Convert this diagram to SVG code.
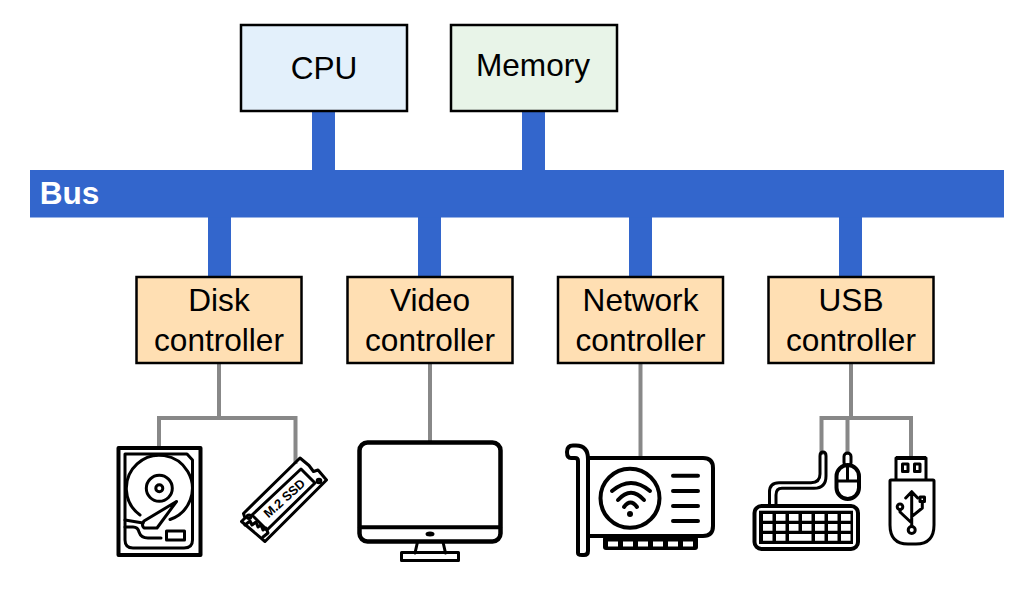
<svg xmlns="http://www.w3.org/2000/svg" width="1028" height="598" viewBox="0 0 1028 598">
<style>
text{font-family:"Liberation Sans",Arial,sans-serif;font-size:31.600px;fill:#000;text-anchor:middle}
.box{stroke:#000;stroke-width:2.500}
.ctl{fill:#ffdfb3}
.bus{fill:#3366cc}
.wire{fill:none;stroke:#888;stroke-width:4}
.ic{fill:none;stroke:#000;stroke-width:3;stroke-linejoin:round;stroke-linecap:round}
.ic4{fill:none;stroke:#000;stroke-width:4;stroke-linejoin:round;stroke-linecap:round}
.blk{fill:#000;stroke:none}
.wh{fill:#fff;stroke:none}
</style>
<rect width="1028" height="598" fill="#fff"/>
<g id="connectors">
<rect class="bus" x="312" y="110" width="23" height="60"/>
<rect class="bus" x="522" y="110" width="23" height="60"/>
<rect class="bus" x="208" y="217" width="23" height="60"/>
<rect class="bus" x="418" y="217" width="23" height="60"/>
<rect class="bus" x="629" y="217" width="23" height="60"/>
<rect class="bus" x="839" y="217" width="23" height="60"/>
<path class="wire" d="M219 363V418M159 446V418H295.500V464"/>
<path class="wire" d="M430 363V442"/>
<path class="wire" d="M640.500 363V458"/>
<path class="wire" d="M851 363V418M821.500 455V418H911V458M847.500 455V418"/>
</g>
<g id="bus"><rect class="bus" x="30" y="170" width="974" height="47.500"/><text x="69.500" y="204" style="fill:#fff;font-weight:700">Bus</text></g>
<g id="cpu"><rect class="box" x="241" y="25" width="166" height="86" fill="#e3f0fb"/><text x="324" y="79">CPU</text></g>
<g id="memory"><rect class="box" x="451" y="25" width="166" height="86" fill="#e8f4e8"/><text x="533" y="76">Memory</text></g>
<g id="disk-controller"><rect class="box ctl" x="136.500" y="277" width="165" height="86"/><text x="219" y="311">Disk</text><text x="219" y="350.500">controller</text></g>
<g id="video-controller"><rect class="box ctl" x="347.500" y="277" width="165" height="86"/><text x="430" y="311">Video</text><text x="430" y="350.500">controller</text></g>
<g id="network-controller"><rect class="box ctl" x="558" y="277" width="165" height="86"/><text x="640.500" y="311">Network</text><text x="640.500" y="350.500">controller</text></g>
<g id="usb-controller"><rect class="box ctl" x="768.500" y="277" width="165" height="86"/><text x="851" y="311">USB</text><text x="851" y="350.500">controller</text></g>
<g id="hdd">
<rect class="ic4" x="118.500" y="448" width="82" height="107"/>
<path class="ic" d="M125 454H187L192.500 460V540Q192.500 548 184 548H133Q125 548 125 540Z"/>
<path class="ic" d="M170 519.500A33 33 0 1 0 140 515"/>
<circle class="ic" cx="159.300" cy="488.300" r="13"/>
<circle class="ic" cx="159.300" cy="488.300" r="3.500"/>
<path class="ic" d="M176.500 501.500L144 521Q141 525 144 528L157 528Z"/>
<path class="ic" d="M125 520L143 523M125 527H133Q138 527 139 532Q141 538 148 538H161"/>
<rect class="ic" x="166.500" y="531" width="18" height="9"/>
</g>
<g id="ssd">
<path class="ic" d="M300 458L309 465.500L313.500 471.500L318 470L326.500 480L265 541.500L241.500 521.500L245 518L243.500 513.500Z" stroke-width="2.400"/>
<path class="ic" d="M301 469L315 483L267 530L252 515Z" stroke-width="2.400"/>
<circle class="ic" cx="319" cy="481" r="1.800" stroke-width="2"/>
<circle class="ic" cx="249" cy="516.700" r="1.800" stroke-width="2"/>
<path class="ic" d="M245 525L250 521L252 525L256 522L258 527L261 525L263 530L266 528L268 533L263 537" stroke-width="2"/>
<text transform="translate(284.300 498.300) rotate(-42)" style="font-size:12.700px;font-weight:700" y="4.500">M.2 SSD</text>
</g>
<g id="monitor">
<rect class="ic4" x="359.500" y="442.500" width="141" height="99" rx="8" style="stroke-width:4.500"/>
<path class="ic4" d="M360 527.300H500"/>
<ellipse class="blk" cx="430" cy="534" rx="4.500" ry="2.500"/>
<path class="ic" d="M417.500 542L415 553M443 542L445.500 553"/>
<rect class="ic" x="401.500" y="552.500" width="57" height="8"/>
</g>
<g id="netcard">
<path class="ic4" d="M588 458H703Q713 458 713 468V526Q713 536 703 536H590"/>
<path class="ic4" d="M578 553V461Q578 458 575 458H571Q567 458 567 452Q567 445.500 573 445.500H576Q588 445.500 588 459V551Q588 555 584 555H582Q578 555 578 553Z"/>
<circle class="ic4" cx="630" cy="498.300" r="29.500"/>
<path class="ic4" d="M612 491Q631 475 650 491M618 500Q631 485.500 644 500M624 507Q630.500 498 637 507"/>
<circle class="blk" cx="630" cy="514" r="3"/>
<path class="ic4" d="M673 475.700H698M673 491H698M673 506H698M673 521H698"/>
<rect class="blk" x="603" y="536" width="95" height="14" rx="3"/>
<path class="wh" d="M608 541.500h10v5h-10zM623 541.500h10v5h-10zM638 541.500h10v5h-10zM653 541.500h10v5h-10zM668 541.500h10v5h-10zM683 541.500h10v5h-10z"/>
</g>
<g id="keyboard">
<rect class="ic4" x="754.500" y="506" width="103.500" height="43" rx="7"/>
<rect class="blk" x="759" y="510.700" width="94" height="33.300"/>
<path class="wh" d="M763 514h9.500v6.700H763zM776 514h9.500v6.700H776zM789 514h9.500v6.700H789zM802 514h9.500v6.700H802zM815 514h9.500v6.700H815zM828 514h9.500v6.700H828zM841 514h9.500v6.700H841zM763 524h9.500v6.700H763zM776 524h9.500v6.700H776zM789 524h9.500v6.700H789zM802 524h9.500v6.700H802zM815 524h9.500v6.700H815zM828 524h9.500v6.700H828zM841 524h9.500v6.700H841zM763 534h9.500v6.700H763zM776 534h9.500v6.700H776zM789 534h22.500v6.700H789zM815 534h9.500v6.700H815zM828 534h9.500v6.700H828zM841 534h9.500v6.700H841z"/>
<path class="ic" d="M769.500 504V492Q769.500 482.700 779 482.700H811Q820 482.700 820 474V456Q820 452 823 452Q826 452 826 456V476Q826 488.300 814 488.300H782Q776 488.300 776 495V504"/>
</g>
<g id="mouse">
<rect class="ic4" x="836.500" y="465" width="22.500" height="34" rx="11.250"/>
<path class="ic" d="M836.500 481H859M847.500 465V481"/>
<rect class="ic" x="844" y="453" width="7" height="13" rx="3.500"/>
</g>
<g id="usb">
<path class="ic" d="M891 480H933Q934 480 934 481V525Q934 544 916 544H908Q890 544 890 525V481Q890 480 891 480Z"/>
<path class="ic" d="M896 479V458H926V479"/>
<path d="M896 458H926" stroke="#000" stroke-width="4"/>
<rect class="ic" x="902.500" y="464" width="5.500" height="7.500"/>
<rect class="ic" x="914.500" y="464" width="5.500" height="7.500"/>
<path class="ic" d="M911.700 493V526M905.700 498L911.700 491.700L917.700 498M911.700 523L900 512V510M911.700 516.700L922.300 508V502"/>
<circle class="ic" cx="911.700" cy="530" r="3.500"/>
<circle class="ic" cx="900" cy="506.700" r="2.800"/>
<rect class="ic" x="920" y="497" width="4.500" height="4.500"/>
</g>
</svg>
